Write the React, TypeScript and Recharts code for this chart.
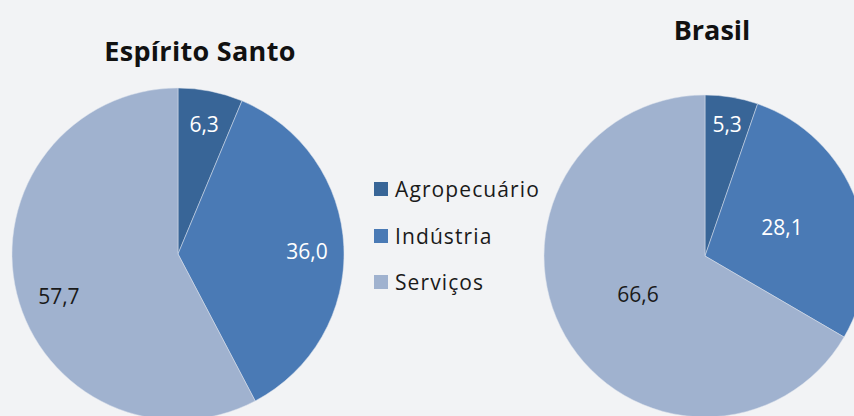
import { PieChart, Pie, Cell, Legend } from 'recharts'

const categories = ['Agropecuário', 'Indústria', 'Serviços']
const espiritoSanto = [6.3, 36.0, 57.7]
const brasil = [5.3, 28.1, 66.6]

const colors = ['#386597', '#4a7ab5', '#a0b2cf']
const labelColors = ['#ffffff', '#ffffff', '#1a1a1a']

if (typeof document !== 'undefined') document.body.style.margin = '0'

const font = '"Open Sans", "Noto Sans", sans-serif'

const toRows = (values: number[]) => categories.map((name, i) => ({ name, value: values[i] }))

// label placement per slice: [fraction of radius, angle nudge in degrees]
const makeLabel = (place: number[][]) => (props: any) => {
  const { cx, cy, midAngle, outerRadius, value, index } = props
  const [f, da] = place[index]
  const r = outerRadius * f
  const rad = (-(midAngle + da) * Math.PI) / 180
  const x = cx + r * Math.cos(rad)
  const y = cy + r * Math.sin(rad)
  return (
    <text x={x} y={y} fill={labelColors[index]} textAnchor="middle" dominantBaseline="central"
      style={{ fontFamily: font, fontSize: 21 }}>
      {value.toFixed(1).replace('.', ',')}
    </text>
  )
}

function LegendBox() {
  return (
    <div style={{ fontFamily: font, fontSize: 21, letterSpacing: 1.1, color: '#1a1a1a' }}>
      {categories.map((c, i) => (
        <div key={c} style={{ display: 'flex', alignItems: 'center', height: 46.5 }}>
          <span style={{ width: 14, height: 14, background: colors[i], marginRight: 7, display: 'inline-block' }} />
          {c}
        </div>
      ))}
    </div>
  )
}

export default function App() {
  return (
    <div style={{ position: 'relative', width: 854, height: 416, background: '#f2f3f5', overflow: 'hidden' }}>
      <div style={{ position: 'absolute', left: 0, width: 400, top: 32, textAlign: 'center', fontFamily: font, fontWeight: 700, fontSize: 27, letterSpacing: 0.3, color: '#111' }}>
        Espírito Santo
      </div>
      <div style={{ position: 'absolute', left: 612, width: 200, top: 11, textAlign: 'center', fontFamily: font, fontWeight: 700, fontSize: 27, color: '#111' }}>
        Brasil
      </div>
      <PieChart width={854} height={416} margin={{ top: 0, right: 0, bottom: 0, left: 0 }}
        style={{ position: 'absolute', left: 0, top: 0 }}>
        <Pie data={toRows(espiritoSanto)} dataKey="value" nameKey="name" cx={178} cy={254} outerRadius={166}
          startAngle={90} endAngle={-270} stroke="#dde3ec" strokeWidth={0.5} labelLine={false}
          label={makeLabel([[0.8, 0], [0.777, -1.4], [0.76, 5.4]])} isAnimationActive={false}>
          {categories.map((c, i) => <Cell key={c} fill={colors[i]} />)}
        </Pie>
        <Pie data={toRows(brasil)} dataKey="value" nameKey="name" cx={705} cy={256} outerRadius={161}
          startAngle={90} endAngle={-270} stroke="#dde3ec" strokeWidth={0.5} labelLine={false}
          label={makeLabel([[0.83, 0], [0.51, 0], [0.48, 0]])} isAnimationActive={false}>
          {categories.map((c, i) => <Cell key={c} fill={colors[i]} />)}
        </Pie>
        <Legend layout="vertical" content={() => <LegendBox />}
          wrapperStyle={{ position: 'absolute', left: 374, top: 166, width: 220 }} />
      </PieChart>
    </div>
  )
}
